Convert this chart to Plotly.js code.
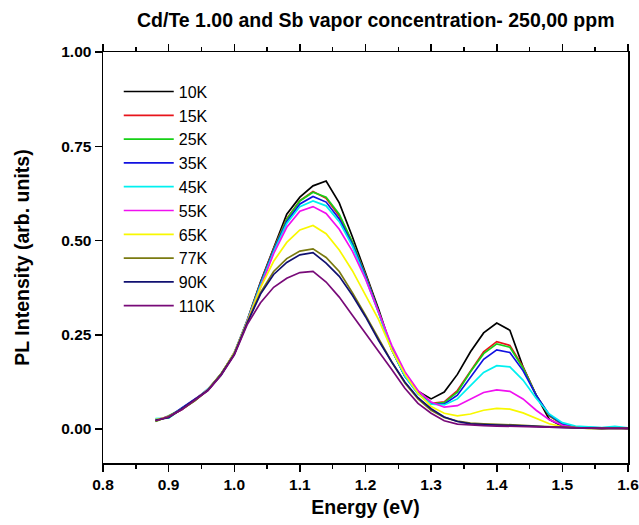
<!DOCTYPE html>
<html>
<head>
<meta charset="utf-8">
<script src="https://cdn.plot.ly/plotly-3.0.1.min.js"></script>
<style>html,body{margin:0;padding:0;background:#fff;}#chart{width:639px;height:525px;}</style>
</head>
<body>
<div id="chart"></div>
<script>
// Energy grid (eV)
const energy = [0.88,0.90,0.92,0.94,0.96,0.98,1.00,1.02,1.04,1.06,1.08,1.10,1.12,1.14,1.16,1.18,1.20,1.22,1.24,1.26,1.28,1.30,1.32,1.34,1.36,1.38,1.40,1.42,1.44,1.46,1.48,1.50,1.52,1.54,1.56,1.58,1.60];

const seriesNames = ["10K","15K","25K","35K","45K","55K","65K","77K","90K","110K"];
const seriesColors = ["#000000","#e8141b","#16d016","#1010e0","#00f0f0","#f010f0","#f8f800","#7a7a10","#101070","#780a78"];

const pl10K  = [0.022,0.033,0.052,0.076,0.104,0.146,0.200,0.290,0.390,0.482,0.570,0.615,0.645,0.658,0.600,0.510,0.415,0.318,0.212,0.140,0.100,0.080,0.098,0.145,0.205,0.255,0.281,0.262,0.165,0.090,0.026,0.007,0.003,0.002,0.002,0.003,0.002];
const pl15K  = [0.026,0.030,0.055,0.078,0.106,0.144,0.203,0.288,0.388,0.478,0.558,0.606,0.630,0.612,0.565,0.495,0.410,0.312,0.212,0.142,0.095,0.068,0.072,0.102,0.155,0.205,0.232,0.222,0.165,0.090,0.035,0.012,0.005,0.003,0.002,0.004,0.002];
const pl25K  = [0.020,0.035,0.053,0.077,0.105,0.147,0.201,0.287,0.386,0.476,0.556,0.605,0.628,0.615,0.570,0.496,0.408,0.312,0.214,0.143,0.095,0.066,0.070,0.098,0.152,0.200,0.226,0.217,0.162,0.090,0.036,0.013,0.005,0.003,0.002,0.003,0.002];
const pl35K  = [0.024,0.032,0.056,0.079,0.103,0.145,0.199,0.286,0.385,0.474,0.550,0.597,0.617,0.602,0.557,0.490,0.405,0.310,0.210,0.140,0.094,0.066,0.066,0.090,0.138,0.185,0.210,0.203,0.155,0.090,0.038,0.014,0.005,0.003,0.003,0.004,0.002];
const pl45K  = [0.028,0.029,0.054,0.076,0.107,0.143,0.202,0.289,0.382,0.470,0.545,0.590,0.605,0.592,0.550,0.485,0.400,0.308,0.210,0.140,0.093,0.066,0.064,0.080,0.115,0.150,0.168,0.165,0.130,0.082,0.040,0.017,0.008,0.005,0.004,0.007,0.003];
const pl55K  = [0.023,0.034,0.051,0.078,0.105,0.146,0.200,0.287,0.378,0.465,0.535,0.578,0.590,0.572,0.530,0.472,0.398,0.308,0.222,0.152,0.102,0.072,0.058,0.062,0.080,0.097,0.104,0.100,0.080,0.050,0.025,0.010,0.004,0.003,0.002,0.003,0.002];
const pl65K  = [0.025,0.031,0.053,0.077,0.104,0.145,0.201,0.285,0.375,0.445,0.495,0.528,0.540,0.518,0.475,0.420,0.355,0.290,0.210,0.145,0.095,0.060,0.042,0.035,0.040,0.050,0.055,0.053,0.043,0.028,0.014,0.006,0.003,0.002,0.002,0.002,0.002];
const pl77K  = [0.021,0.033,0.052,0.075,0.104,0.146,0.199,0.284,0.362,0.418,0.452,0.472,0.478,0.455,0.418,0.362,0.302,0.238,0.178,0.122,0.080,0.050,0.031,0.021,0.016,0.014,0.013,0.012,0.010,0.008,0.006,0.004,0.003,0.002,0.002,0.002,0.002];
const pl90K  = [0.024,0.030,0.054,0.078,0.103,0.144,0.198,0.282,0.358,0.410,0.442,0.462,0.468,0.440,0.405,0.355,0.298,0.235,0.178,0.125,0.083,0.054,0.032,0.020,0.014,0.012,0.011,0.010,0.009,0.007,0.005,0.004,0.003,0.002,0.002,0.002,0.002];
const pl110K = [0.022,0.032,0.052,0.076,0.102,0.143,0.196,0.278,0.335,0.376,0.400,0.415,0.418,0.390,0.350,0.302,0.255,0.205,0.158,0.108,0.068,0.042,0.022,0.013,0.010,0.009,0.008,0.008,0.007,0.006,0.005,0.004,0.003,0.002,0.002,0.002,0.002];

const seriesValues = [pl10K,pl15K,pl25K,pl35K,pl45K,pl55K,pl65K,pl77K,pl90K,pl110K];

const yTickVals = [0,0.25,0.5,0.75,1.0];
const xRange = [0.8,1.6];

const traces = seriesNames.map((name,i)=>({
  type:'scatter', mode:'lines', name:name,
  x: energy, y: seriesValues[i],
  line:{color:seriesColors[i], width:1.7}
}));

const fam = 'Liberation Sans, Arial, sans-serif';
const tickFont = {family:fam, size:15.5, color:'#000', weight:'bold'};
const titleFont = {family:fam, size:19.5, color:'#000', weight:'bold'};

const layout = {
  width:639, height:525,
  margin:{l:103, r:11, t:52, b:62},
  paper_bgcolor:'#fff', plot_bgcolor:'#fff',
  title:{text:'Cd/Te 1.00 and Sb vapor concentration- 250,00 ppm', font:{family:fam, size:19.5, color:'#000', weight:'bold'}, xref:'container', yref:'container', x:0.588, xanchor:'center', y:0.962, yanchor:'middle'},
  xaxis:{range:xRange, tick0:0.8, dtick:0.1, tickformat:'.1f', ticks:'outside', ticklen:7, tickwidth:1.5, tickcolor:'#000',
         showline:true, linewidth:1.5, linecolor:'#000', mirror:'ticks', showgrid:false, zeroline:false, ticklabeloverflow:'allow',
         minor:{dtick:0.05, ticks:'outside', ticklen:4, tickwidth:1.5, tickcolor:'#000', showgrid:false},
         tickfont:tickFont, title:{text:'Energy (eV)', font:titleFont, standoff:8}, automargin:false},
  yaxis:{range:[-0.09,1.0], tickvals:yTickVals, tickformat:'.2f', ticks:'outside', ticklen:7, tickwidth:1.5, tickcolor:'#000',
         showline:true, linewidth:1.5, linecolor:'#000', mirror:true, showgrid:false, zeroline:false,
         tickfont:tickFont, title:{text:'PL Intensity (arb. units)', font:titleFont, standoff:26}, automargin:false},
  showlegend:true,
  legend:{x:0.03, y:0.945, xanchor:'left', yanchor:'top', bgcolor:'rgba(0,0,0,0)', borderwidth:0,
          font:{family:fam, size:16, color:'#000'}, itemwidth:50, tracegroupgap:0}
};

Plotly.newPlot('chart', traces, layout, {displayModeBar:false, staticPlot:true});
</script>
</body>
</html>
